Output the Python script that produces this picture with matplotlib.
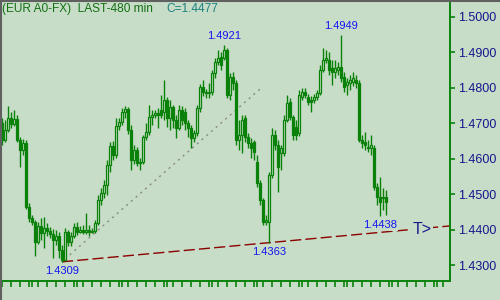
import matplotlib
matplotlib.use("Agg")
import matplotlib.pyplot as plt
from matplotlib.lines import Line2D
import numpy as np

plt.rcParams["font.family"] = ["Liberation Sans", "DejaVu Sans"]

# EUR A0-FX, 480 min bars
opens = [1.4700, 1.4652, 1.4681, 1.4714, 1.4697, 1.4711, 1.4652, 1.4624, 1.4644, 1.4463,
         1.4432, 1.4421, 1.4365, 1.4410, 1.4390, 1.4404, 1.4396, 1.4387, 1.4370, 1.4382,
         1.4342, 1.4314, 1.4393, 1.4365, 1.4382, 1.4407, 1.4393, 1.4398, 1.4393, 1.4398,
         1.4393, 1.4396, 1.4418, 1.4483, 1.4503, 1.4525, 1.4582, 1.4635, 1.4610, 1.4692,
         1.4703, 1.4731, 1.4740, 1.4681, 1.4596, 1.4624, 1.4587, 1.4590, 1.4661, 1.4675,
         1.4717, 1.4723, 1.4728, 1.4737, 1.4731, 1.4765, 1.4714, 1.4745, 1.4709, 1.4686,
         1.4737, 1.4731, 1.4700, 1.4686, 1.4658, 1.4672, 1.4742, 1.4802, 1.4788, 1.4785,
         1.4788, 1.4841, 1.4872, 1.4886, 1.4883, 1.4906, 1.4779, 1.4830, 1.4813, 1.4652,
         1.4666, 1.4714, 1.4661, 1.4644, 1.4647, 1.4590, 1.4531, 1.4483, 1.4421, 1.4421,
         1.4554, 1.4666, 1.4638, 1.4616, 1.4616, 1.4709, 1.4759, 1.4717, 1.4689, 1.4672,
         1.4774, 1.4788, 1.4774, 1.4765, 1.4765, 1.4774, 1.4785, 1.4850, 1.4878, 1.4878,
         1.4855, 1.4844, 1.4850, 1.4858, 1.4830, 1.4807, 1.4813, 1.4816, 1.4821, 1.4813,
         1.4652, 1.4647, 1.4632, 1.4630, 1.4630, 1.4520, 1.4491, 1.4489, 1.4491]
highs = [1.4714, 1.4709, 1.4748, 1.4731, 1.4737, 1.4723, 1.4661, 1.4655, 1.4652, 1.4475,
         1.4441, 1.4427, 1.4421, 1.4432, 1.4435, 1.4418, 1.4407, 1.4401, 1.4398, 1.4393,
         1.4356, 1.4404, 1.4398, 1.4393, 1.4418, 1.4421, 1.4410, 1.4413, 1.4446, 1.4413,
         1.4404, 1.4427, 1.4497, 1.4517, 1.4539, 1.4596, 1.4647, 1.4649, 1.4714, 1.4714,
         1.4742, 1.4748, 1.4745, 1.4695, 1.4638, 1.4632, 1.4601, 1.4666, 1.4700, 1.4751,
         1.4737, 1.4737, 1.4742, 1.4779, 1.4821, 1.4774, 1.4765, 1.4751, 1.4723, 1.4751,
         1.4748, 1.4742, 1.4709, 1.4695, 1.4681, 1.4751, 1.4810, 1.4821, 1.4796, 1.4813,
         1.4850, 1.4883, 1.4906, 1.4900, 1.4921, 1.4912, 1.4841, 1.4844, 1.4821, 1.4709,
         1.4723, 1.4723, 1.4672, 1.4658, 1.4652, 1.4610, 1.4539, 1.4489, 1.4441, 1.4562,
         1.4686, 1.4681, 1.4652, 1.4638, 1.4723, 1.4779, 1.4771, 1.4723, 1.4709, 1.4793,
         1.4799, 1.4799, 1.4782, 1.4776, 1.4782, 1.4793, 1.4864, 1.4912, 1.4906, 1.4900,
         1.4878, 1.4878, 1.4872, 1.4949, 1.4844, 1.4827, 1.4836, 1.4844, 1.4836, 1.4821,
         1.4666, 1.4675, 1.4652, 1.4666, 1.4638, 1.4531, 1.4548, 1.4517, 1.4511]
lows = [1.4638, 1.4647, 1.4675, 1.4686, 1.4692, 1.4647, 1.4576, 1.4610, 1.4458, 1.4421,
        1.4413, 1.4325, 1.4359, 1.4370, 1.4348, 1.4382, 1.4376, 1.4319, 1.4356, 1.4319,
        1.4309, 1.4312, 1.4353, 1.4353, 1.4376, 1.4384, 1.4390, 1.4387, 1.4387, 1.4382,
        1.4390, 1.4390, 1.4413, 1.4469, 1.4489, 1.4497, 1.4562, 1.4596, 1.4601, 1.4681,
        1.4695, 1.4714, 1.4669, 1.4568, 1.4585, 1.4579, 1.4568, 1.4585, 1.4652, 1.4666,
        1.4695, 1.4714, 1.4686, 1.4714, 1.4709, 1.4689, 1.4681, 1.4686, 1.4658, 1.4681,
        1.4695, 1.4681, 1.4661, 1.4630, 1.4647, 1.4664, 1.4731, 1.4776, 1.4771, 1.4771,
        1.4779, 1.4827, 1.4864, 1.4850, 1.4878, 1.4771, 1.4765, 1.4793, 1.4638, 1.4624,
        1.4616, 1.4647, 1.4630, 1.4601, 1.4596, 1.4520, 1.4469, 1.4413, 1.4413, 1.4363,
        1.4545, 1.4624, 1.4506, 1.4568, 1.4607, 1.4703, 1.4709, 1.4652, 1.4652, 1.4664,
        1.4765, 1.4771, 1.4751, 1.4731, 1.4757, 1.4765, 1.4779, 1.4844, 1.4869, 1.4836,
        1.4807, 1.4827, 1.4836, 1.4816, 1.4788, 1.4779, 1.4793, 1.4804, 1.4799, 1.4647,
        1.4630, 1.4624, 1.4618, 1.4610, 1.4511, 1.4469, 1.4438, 1.4455, 1.4441]
closes = [1.4652, 1.4681, 1.4714, 1.4697, 1.4711, 1.4652, 1.4624, 1.4644, 1.4463, 1.4432,
          1.4421, 1.4365, 1.4410, 1.4390, 1.4404, 1.4396, 1.4387, 1.4370, 1.4382, 1.4342,
          1.4314, 1.4393, 1.4365, 1.4382, 1.4407, 1.4393, 1.4398, 1.4393, 1.4398, 1.4393,
          1.4396, 1.4418, 1.4483, 1.4503, 1.4525, 1.4582, 1.4635, 1.4610, 1.4692, 1.4703,
          1.4731, 1.4740, 1.4681, 1.4596, 1.4624, 1.4587, 1.4590, 1.4661, 1.4675, 1.4717,
          1.4723, 1.4728, 1.4723, 1.4723, 1.4765, 1.4714, 1.4745, 1.4709, 1.4686, 1.4737,
          1.4709, 1.4700, 1.4686, 1.4658, 1.4672, 1.4742, 1.4802, 1.4788, 1.4785, 1.4788,
          1.4841, 1.4872, 1.4883, 1.4864, 1.4906, 1.4779, 1.4830, 1.4813, 1.4652, 1.4666,
          1.4709, 1.4661, 1.4644, 1.4630, 1.4618, 1.4531, 1.4483, 1.4421, 1.4427, 1.4554,
          1.4666, 1.4638, 1.4576, 1.4630, 1.4709, 1.4757, 1.4717, 1.4666, 1.4666, 1.4779,
          1.4788, 1.4779, 1.4759, 1.4759, 1.4774, 1.4785, 1.4850, 1.4878, 1.4883, 1.4850,
          1.4844, 1.4855, 1.4858, 1.4827, 1.4802, 1.4816, 1.4821, 1.4827, 1.4813, 1.4652,
          1.4644, 1.4638, 1.4630, 1.4638, 1.4520, 1.4491, 1.4477, 1.4491, 1.4477]

high_marks = [74, 113]
low_marks = [20, 89, 126]

# support line through the two lows, and the dotted guide line
trend_idx = [20, 89]
trend_px = [1.4309, 1.4363]
guide_idx = [21, 86]
guide_px = [1.4317, 1.4796]

price_ticks = [1.43, 1.44, 1.45, 1.46, 1.47, 1.48, 1.49, 1.50]

BG = "#c8ddc8"
GREEN = "#0a820a"
NAVY = "#16168c"
BLUE = "#1414f0"

fig = plt.figure(figsize=(5, 3), dpi=100, facecolor=BG)
ax = fig.add_axes([0.002, 0.0633, 0.898, 0.9367], facecolor=BG)

x = np.arange(len(closes))
o = np.array(opens)
h = np.array(highs)
l = np.array(lows)
c = np.array(closes)
up = c >= o

ax.vlines(x, l, h, color=GREEN, lw=1.0, zorder=2)
ax.bar(x[up], np.maximum(c[up] - o[up], 0.00005), bottom=o[up], width=0.7,
       facecolor=BG, edgecolor=GREEN, lw=0.9, zorder=3)
ax.bar(x[~up], o[~up] - c[~up], bottom=c[~up], width=0.7,
       facecolor=GREEN, edgecolor=GREEN, lw=0.9, zorder=3)

xmin, xmax = -1 / 3, 149.33
ax.set_xlim(xmin, xmax)
ax.set_ylim(1.42549, 1.50471)

# trend lines
slope = (trend_px[1] - trend_px[0]) / (trend_idx[1] - trend_idx[0])
ax.plot([trend_idx[0], xmax], [trend_px[0], trend_px[0] + slope * (xmax - trend_idx[0])],
        color="#8b0000", lw=1.0, linestyle=(0, (8, 3)), zorder=1)
ax.plot(guide_idx, guide_px, color="#8a8a8a", lw=1.0, linestyle=(0, (1.5, 3)), zorder=1)

# extreme labels
for i in high_marks:
    ax.annotate(f"{highs[i]:.4f}", (i, highs[i]), xytext=(0, 3), textcoords="offset points",
                ha="center", va="bottom", color=BLUE, fontsize=8, zorder=5)
for i in low_marks:
    ax.annotate(f"{lows[i]:.4f}", (i, lows[i]), xytext=(0, -3), textcoords="offset points",
                ha="center", va="top", color=BLUE, fontsize=8, zorder=5,
                bbox=dict(facecolor=BG, edgecolor="none", pad=0.6))
ax.text(137, 1.4401, "T>", color=NAVY, fontsize=11.5, ha="left", va="center", zorder=5,
        bbox=dict(facecolor=BG, edgecolor="none", pad=1.0))

# axes styling
for side in ["left", "top"]:
    ax.spines[side].set_visible(False)
for side in ["right", "bottom"]:
    ax.spines[side].set_color(GREEN)
    ax.spines[side].set_linewidth(1.4)

ax.yaxis.tick_right()
ax.set_yticks(price_ticks)
ax.set_yticklabels([f"{v:.4f}" for v in price_ticks])
ax.tick_params(axis="y", colors=GREEN, labelcolor=NAVY, labelsize=9, length=3.5,
               width=1.2, direction="out", pad=2)

day_ticks = sorted(set(list(range(0, 150, 3)) + list(range(10, 150, 15))))
ax.set_xticks(day_ticks)
ax.set_xticklabels([])
ax.tick_params(axis="x", colors=GREEN, length=4.5, width=1.2, direction="out")

fig.text(0.004, 1 - 9 / 300, "(EUR A0-FX)  LAST-480 min", color="#137013",
         fontsize=8.6, ha="left", va="center")
fig.text(166 / 500, 1 - 9 / 300, "C=1.4477", color="#1a8080", fontsize=8.6,
         ha="left", va="center")

fig.add_artist(Line2D([0.001, 0.001], [0, 1], transform=fig.transFigure, color="#606060", lw=1.5))
fig.add_artist(Line2D([0, 1], [0.998, 0.998], transform=fig.transFigure, color="#606060", lw=1.5))

fig.savefig("out.png", dpi=100, facecolor=BG)
